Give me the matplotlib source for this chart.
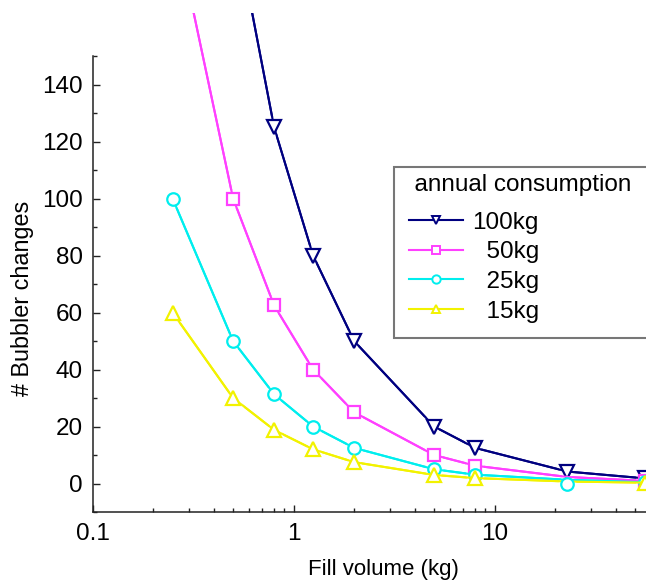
import numpy as np
import matplotlib
matplotlib.use('Agg')
import matplotlib.pyplot as plt
from matplotlib.ticker import FixedLocator, NullFormatter

plt.rcParams['font.family'] = ['Liberation Sans', 'DejaVu Sans']

# fill volumes (kg) and number of bubbler changes per series
fill = [0.25, 0.5, 0.8, 1.25, 2, 5, 8, 23, 56]
changes_100 = [400, 200, 125, 80, 50, 20, 12.5, 4.2, 1.8]
changes_50 = [200, 100, 62.5, 40, 25, 10, 6.25, 2.3, 0.9]
changes_25 = [100, 50, 31.3, 20, 12.5, 5, 3.1, 1.3, 0.45]
changes_15 = [60, 30, 18.8, 12, 7.5, 3, 1.9, 0.7, 0.3]
# the odd cyan marker sitting on zero at 23 kg
stray_x = [23]
stray_y = [0]

labels = ['100kg', '  50kg', '  25kg', '  15kg']
colors = ['#000080', '#ff40ff', '#00eeee', '#f2f200']
markers = ['v', 's', 'o', '^']
msizes = [10, 8, 9, 10]
marked = [list(range(9)), [0, 1, 2, 3, 4, 5, 6, 8], [0, 1, 2, 3, 4, 5, 6, 8],
          [0, 1, 2, 3, 4, 5, 6, 8]]

W, H = 646, 583
fig = plt.figure(figsize=(W / 100, H / 100), dpi=100)
x0, y0, ytop = 92.6, 512, 13.3
ax = fig.add_axes([x0 / W, (H - y0) / H, 603 / W, (y0 - ytop) / H])

series = [changes_100, changes_50, changes_25, changes_15]
handles = []
for ys, c in zip(series, colors):
    ax.plot(fill, ys, color=c, lw=1.5, zorder=2)
for ys, c, m, ms, mk in zip(series, colors, markers, msizes, marked):
    ax.plot(fill, ys, ls='none', marker=m, ms=ms, mfc='white', mec='white',
            mew=4, markevery=mk, zorder=3)
    h, = ax.plot(fill, ys, color=c, lw=1.5, marker=m, ms=ms, mfc='white',
                 mec=c, mew=1.6, markevery=mk, zorder=4)
    handles.append(h)
ax.plot(stray_x, stray_y, ls='none', marker='o', ms=9, mfc='white', mec='white',
        mew=4, zorder=3)
ax.plot(stray_x, stray_y, ls='none', marker='o', ms=9, mfc='white',
        mec=colors[2], mew=1.6, zorder=4)

ax.set_xscale('log')
ax.set_xlim(0.1, 100)
ax.set_ylim(-10, 165)

ax.set_xticks([0.1, 1, 10], ['0.1', '1', '10'])
ax.xaxis.set_minor_formatter(NullFormatter())
ax.set_yticks(np.arange(0, 141, 20))
ax.yaxis.set_minor_locator(FixedLocator(np.arange(-10, 151, 20)))

for s in ['top', 'right']:
    ax.spines[s].set_visible(False)
ax.spines['left'].set_bounds(-10, 150)
for s in ['left', 'bottom']:
    ax.spines[s].set_linewidth(1.1)
    ax.spines[s].set_color('#222222')

ax.tick_params(which='major', direction='in', length=5.3, width=1.0,
               labelsize=17.5, color='#222222')
ax.tick_params(which='minor', direction='in', length=3.2, width=1.0,
               color='#222222')
ax.tick_params(axis='y', pad=7)
ax.tick_params(axis='x', pad=8)

fig.text(383 / W, 1 - 570 / H, 'Fill volume (kg)', ha='center', va='center',
         fontsize=16)
fig.text(22.5 / W, 1 - 298 / H, '# Bubbler changes', ha='center',
         va='center', rotation=90, fontsize=16.8)

leg = fig.legend(handles, labels, title='  annual consumption  ',
                 loc='upper left', bbox_to_anchor=(394 / W, 1 - 167 / H),
                 borderaxespad=0, fontsize=17.5, title_fontsize=17.5,
                 fancybox=False, framealpha=1, edgecolor='#777777',
                 handlelength=2.2, labelspacing=0.31, borderpad=0.3,
                 handletextpad=0.4, alignment='left')
leg.get_frame().set_linewidth(1.5)
# push the entries in a little from the frame, as in the original
leg._legend_handle_box.pad = 5.8
for h in leg.legend_handles:
    h.set_markersize(6)
    h.set_markeredgewidth(1.4)

fig.savefig('out.png', dpi=100)
